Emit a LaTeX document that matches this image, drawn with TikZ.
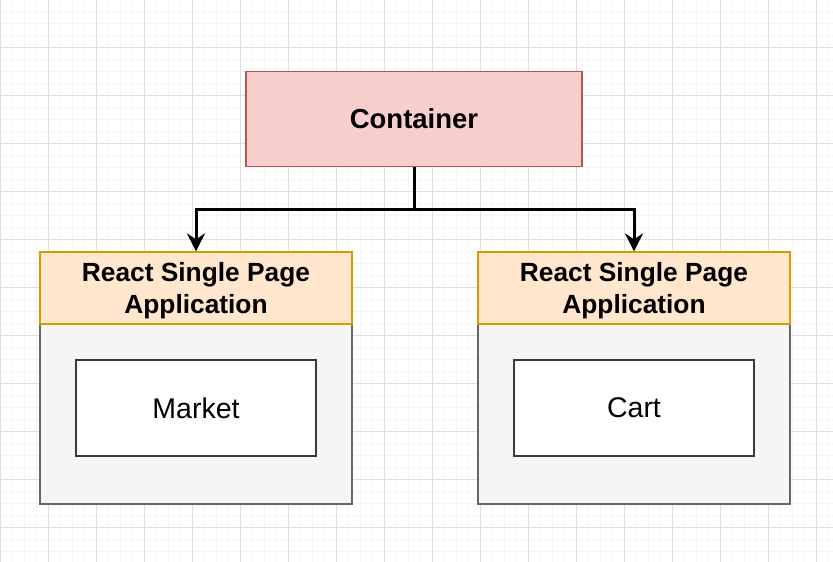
\documentclass[tikz,border=0pt]{standalone}
\usepackage{fontspec}
\setmainfont{Liberation Sans}
\usetikzlibrary{arrows.meta}
\definecolor{gridminor}{HTML}{F5F5F5}
\definecolor{gridmajor}{HTML}{DEDEDE}
\definecolor{redfill}{HTML}{F8CECC}
\definecolor{redline}{HTML}{B85450}
\definecolor{orfill}{HTML}{FFE6CC}
\definecolor{orline}{HTML}{D79B00}
\definecolor{grfill}{HTML}{F5F5F5}
\definecolor{grline}{HTML}{666666}
\definecolor{inline}{HTML}{36393D}
\begin{document}
\begin{tikzpicture}[x=1pt,y=-1pt,
  minorline/.style={draw=gridminor,line width=0.8pt},
  majorline/.style={draw=gridmajor,line width=0.9pt},
  containerbox/.style={draw=redline,fill=redfill,line width=1.2pt,minimum width=336pt,minimum height=95pt,inner sep=0pt,font=\fontsize{27.5}{33}\selectfont\bfseries},
  headerbox/.style={draw=orline,fill=orfill,line width=1.2pt,minimum width=312pt,minimum height=72pt,inner sep=0pt},
  headertext/.style={inner sep=0pt,align=center,font=\fontsize{26.3}{31.5}\selectfont\bfseries},
  bodybox/.style={draw=grline,fill=grfill,line width=1.2pt,minimum width=312pt,minimum height=180pt,inner sep=0pt},
  innerbox/.style={draw=inline,fill=white,line width=1.2pt,minimum width=240pt,minimum height=96pt,inner sep=0pt,font=\fontsize{28.5}{33}\selectfont},
  conn/.style={draw=black,line width=3pt,-{Stealth[length=18pt,width=18pt,inset=6pt]}}
]
\useasboundingbox (0,0) rectangle (833,562);
\fill[white] (0,0) rectangle (833,562);
\foreach \i in {0,...,69} \draw[minorline] ({0.3+12*\i},0) -- ({0.3+12*\i},562);
\foreach \j in {0,...,46} \draw[minorline] (0,{11.3+12*\j}) -- (833,{11.3+12*\j});
\foreach \i in {0,...,17} \draw[majorline] ({0.3+48*\i},0) -- ({0.3+48*\i},562);
\foreach \j in {0,...,11} \draw[majorline] (0,{47.3+48*\j}) -- (833,{47.3+48*\j});

\node[containerbox] (c) at (414,119) {Container};

\node[bodybox] (b1) at (196,414) {};
\node[headerbox] (h1) at (196,288) {};
\node[headertext] (h1t) at (196,290.5) {React Single Page\\Application};
\node[innerbox] (m) at (196,408) {Market};

\node[bodybox] (b2) at (634,414) {};
\node[headerbox] (h2) at (634,288) {};
\node[headertext] (h2t) at (634,290.5) {React Single Page\\Application};
\node[innerbox] (k) at (634,408) {Cart};

\draw[conn] (c.south) -- ++(0,42) -| (h1.north);
\draw[conn] (c.south) -- ++(0,42) -| (h2.north);
\end{tikzpicture}
\end{document}
